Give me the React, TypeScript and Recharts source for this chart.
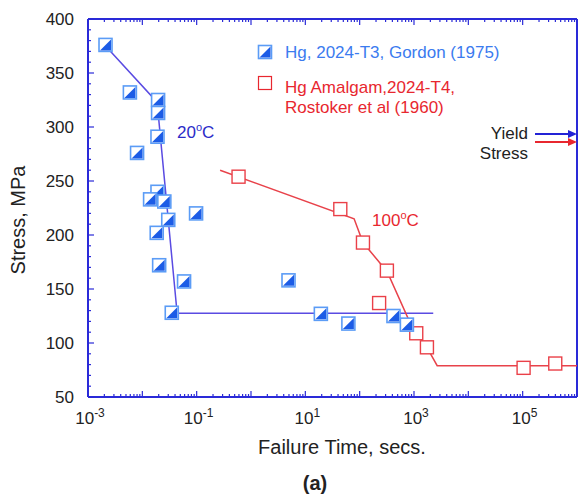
import { ScatterChart, Scatter, XAxis, YAxis } from 'recharts';

// Gordon (1975), Hg on 2024-T3, 20 C
const gordonTime = [0.0021, 0.0059, 0.0195, 0.0195, 0.008, 0.019, 0.019, 0.0139, 0.0254, 0.03, 0.0184, 0.0204, 0.0586, 0.0348, 0.0975, 4.9, 19.3, 62, 419, 740];
const gordonStress = [376, 332, 325, 313, 276, 291, 240, 233, 231, 214, 202, 172, 157, 128, 220, 158, 127, 118, 125, 117];

// Rostoker et al (1960), Hg amalgam on 2024-T4, 100 C
const rostokerTime = [0.59, 44, 115, 317, 228, 1100, 1730, 104000, 398000];
const rostokerStress = [254, 224, 193, 167, 137, 109, 96, 77, 81];

// hand-drawn trend lines
const gordonFitTime = [0.0017, 0.0187, 0.0437, 2260];
const gordonFitStress = [380, 323, 127.5, 127.5];
const rostokerFitTime = [0.27, 79, 115, 321, 914, 1730, 2670, 1000000];
const rostokerFitStress = [260, 215, 193, 166, 115, 96, 79, 79];

const xTicks: number[] = [];
for (let e = -3; e < 6; e++) {
  for (let m = 1; m < 10; m++) xTicks.push(Number((m * Math.pow(10, e)).toPrecision(3)));
}
xTicks.push(1000000);

const yTicks: number[] = [];
for (let v = 50; v <= 400; v += 10) yTicks.push(v);

const AXIS = '#2a2ad8';
const FONT = '"Liberation Sans", Arial, sans-serif';
const BLUE_TXT = '#3b7bef';
const RED = '#e8272f';

const toPoints = (xs: number[], ys: number[]) => xs.map((x, i) => ({ x, y: ys[i] }));

const gordon = toPoints(gordonTime, gordonStress);
const rostoker = toPoints(rostokerTime, rostokerStress);
const gordonFit = toPoints(gordonFitTime, gordonFitStress);
const rostokerFit = toPoints(rostokerFitTime, rostokerFitStress);

function isDecade(v: number) {
  const e = Math.round(Math.log10(v));
  return Math.abs(v - Math.pow(10, e)) < 1e-6 * v;
}

const XTick = (props: any) => {
  const { x, y, payload, top } = props;
  const v = payload.value;
  const major = isDecade(v);
  const e = Math.round(Math.log10(v));
  const len = major ? 6 : 3;
  const dir = top ? 1 : -1;
  return (
    <g>
      <line x1={x} x2={x} y1={y} y2={y + dir * len} stroke={AXIS} strokeWidth={1.2} />
      {!top && major && Math.abs(e) % 2 === 1 && (
        <text x={x + 2} y={y + 27} textAnchor="middle" fontSize={17} fill="#222" fontFamily={FONT}>
          10<tspan dy={-7} fontSize={12}>{e}</tspan>
        </text>
      )}
    </g>
  );
};

const YTick = (props: any) => {
  const { x, y, payload, right } = props;
  const v = payload.value;
  const major = v % 50 === 0;
  const len = major ? 6 : 3;
  const dir = right ? -1 : 1;
  return (
    <g>
      <line x1={x} x2={x + dir * len} y1={y} y2={y} stroke={AXIS} strokeWidth={1.2} />
      {!right && major && (
        <text x={x - 14} y={y} dy="0.36em" textAnchor="end" fontSize={17} fill="#222" fontFamily={FONT}>
          {v}
        </text>
      )}
    </g>
  );
};

const BlueMark = (props: any) => {
  const { cx, cy } = props;
  const s = 6.5;
  return (
    <g>
      <rect x={cx - s} y={cy - s} width={2 * s} height={2 * s} fill="#fff" stroke="#5b9cf6" strokeWidth={1.6} />
      <polygon points={`${cx + s - 1},${cy - s + 1} ${cx + s - 1},${cy + s - 1} ${cx - s + 1},${cy + s - 1}`} fill="#1c5ce6" />
    </g>
  );
};

const RedMark = (props: any) => {
  const { cx, cy } = props;
  const s = 6.5;
  return <rect x={cx - s} y={cy - s} width={2 * s} height={2 * s} fill="#fff" stroke="#ea4048" strokeWidth={1.4} />;
};

const NoMark = () => <g />;

export default function App() {
  return (
    <div style={{ position: 'absolute', left: 0, top: 0, width: 580, height: 497, background: '#fff' }}>
      <ScatterChart width={580} height={497} margin={{ top: 18, right: 2, bottom: 70, left: 0 }}>
        <XAxis
          type="number"
          dataKey="x"
          scale="log"
          domain={[0.001, 1000000]}
          allowDataOverflow
          ticks={xTicks}
          interval={0}
          height={30}
          tickSize={0}
          tickMargin={0}
          tickLine={false}
          axisLine={{ stroke: AXIS, strokeWidth: 2 }}
          tick={<XTick />}
        />
        <XAxis
          xAxisId="top"
          orientation="top"
          type="number"
          dataKey="x"
          scale="log"
          domain={[0.001, 1000000]}
          allowDataOverflow
          ticks={xTicks}
          interval={0}
          height={1}
          tickSize={0}
          tickMargin={0}
          tickLine={false}
          axisLine={{ stroke: AXIS, strokeWidth: 2 }}
          tick={<XTick top />}
        />
        <YAxis
          type="number"
          dataKey="y"
          domain={[50, 400]}
          ticks={yTicks}
          interval={0}
          width={88}
          tickSize={0}
          tickMargin={0}
          tickLine={false}
          axisLine={{ stroke: AXIS, strokeWidth: 2 }}
          tick={<YTick />}
        />
        <YAxis
          yAxisId="right"
          orientation="right"
          type="number"
          dataKey="y"
          domain={[50, 400]}
          ticks={yTicks}
          interval={0}
          width={1}
          tickSize={0}
          tickMargin={0}
          tickLine={false}
          axisLine={{ stroke: AXIS, strokeWidth: 2 }}
          tick={<YTick right />}
        />
        <Scatter data={gordonFit} line={{ stroke: '#5a4be2', strokeWidth: 1.5 }} lineType="joint" shape={<NoMark />} isAnimationActive={false} />
        <Scatter data={rostokerFit} line={{ stroke: '#e8424a', strokeWidth: 1.5 }} lineType="joint" shape={<NoMark />} isAnimationActive={false} />
        <Scatter data={rostoker} shape={<RedMark />} isAnimationActive={false} />
        <Scatter data={gordon} shape={<BlueMark />} isAnimationActive={false} />
      </ScatterChart>
      <svg width={580} height={497} style={{ position: 'absolute', left: 0, top: 0, pointerEvents: 'none' }} fontFamily={FONT}>
        <text x={18} y={220} transform="rotate(-90 18 220)" textAnchor="middle" dy="0.36em" fontSize={20} fill="#222">
          Stress, MPa
        </text>
        <text x={342} y={454} textAnchor="middle" fontSize={20} fill="#222">Failure Time, secs.</text>
        <text x={315} y={490} textAnchor="middle" fontSize={20} fontWeight="bold" fill="#222">(a)</text>

        <BlueMark cx={265} cy={52} />
        <text x={285} y={58} fontSize={17} fill={BLUE_TXT}>Hg, 2024-T3, Gordon (1975)</text>
        <rect x={258.5} y={76.5} width={13} height={13} fill="#fff" stroke={RED} strokeWidth={1.2} />
        <text x={285} y={93} fontSize={17} fill={RED}>Hg Amalgam,2024-T4,</text>
        <text x={285} y={113} fontSize={17} fill={RED}>Rostoker et al (1960)</text>

        <text x={177} y={138} fontSize={17} fill="#2b2bc8">
          20<tspan dy={-7} fontSize={11}>o</tspan><tspan dy={7}>C</tspan>
        </text>
        <text x={372} y={226} fontSize={17} fill={RED}>
          100<tspan dy={-7} fontSize={11}>o</tspan><tspan dy={7}>C</tspan>
        </text>

        <text x={528} y={139} textAnchor="end" fontSize={17} fill="#222">Yield</text>
        <text x={528} y={159} textAnchor="end" fontSize={17} fill="#222">Stress</text>
        <line x1={535} x2={570} y1={134} y2={134} stroke="#2323d6" strokeWidth={2} />
        <polygon points="577,134 568,130 568,138" fill="#2323d6" />
        <line x1={535} x2={570} y1={142} y2={142} stroke="#e8272f" strokeWidth={2} />
        <polygon points="577,142 568,138 568,146" fill="#e8272f" />
      </svg>
    </div>
  );
}
